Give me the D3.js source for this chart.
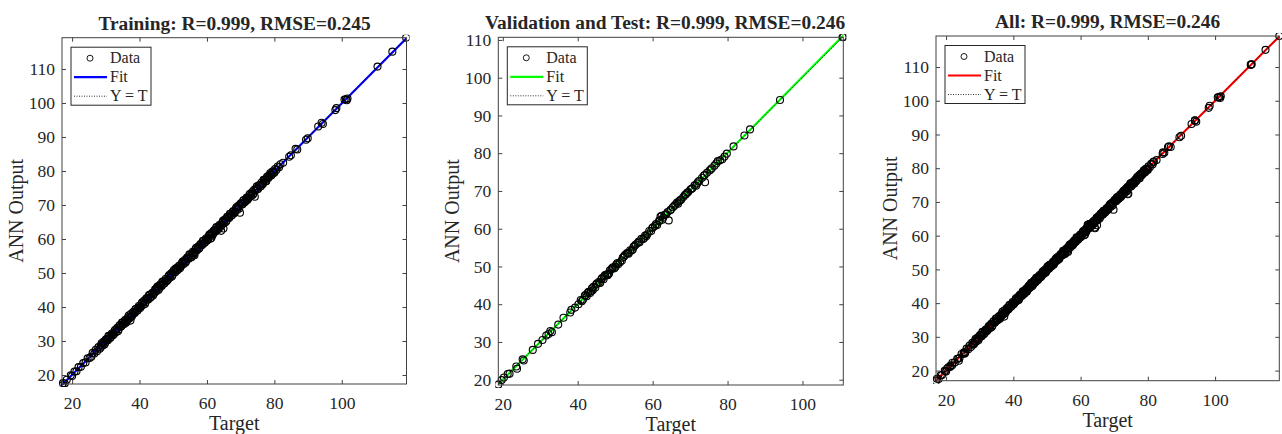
<!DOCTYPE html>
<meta charset="utf-8">
<style>
    body { margin: 0; background: #fff; }
    text { font-family: "Liberation Serif", "Times New Roman", serif; fill: #262626; }
    .title { font-weight: bold; font-size: 19.4px; }
    .tick line { stroke: #404040; }
    .domain { display: none; }
    .axlabel { font-size: 20px; }
    .legend text { font-size: 16px; }
    .frame { fill: none; stroke: #404040; stroke-width: 1; }
    .data circle { fill: none; stroke: #000; stroke-width: 1.1px; }
    .ideal { fill: none; stroke: #000; stroke-width: 0.8px; stroke-dasharray: 1, 1.5; }
</style>
<svg width="1282" height="434"></svg>
<script src="https://d3js.org/d3.v7.min.js"></script>
<script>

    // training set: targets and network outputs
    var trainTarget = [
        17.0, 17.3, 17.8, 18.4, 19.6, 20.0, 20.7, 21.3, 21.9, 22.6,
        23.3, 24.0, 24.6, 25.2, 25.7, 26.1, 26.6, 27.0, 27.4, 27.8,
        28.2, 28.6, 29.0, 29.4, 29.8, 30.2, 30.6, 31.0, 31.4, 31.8,
        32.2, 32.6, 33.0, 33.4, 33.8, 34.2, 34.6, 35.0, 35.4, 35.8,
        36.2, 36.6, 37.0, 37.4, 37.8, 38.2, 38.6, 39.0, 39.4, 39.8,
        40.2, 40.6, 41.0, 41.4, 41.8, 42.2, 42.6, 43.0, 43.4, 43.8,
        44.2, 44.6, 45.0, 45.4, 45.8, 46.2, 46.6, 47.0, 47.4, 47.8,
        48.2, 48.6, 49.0, 49.4, 49.8, 50.2, 50.6, 51.0, 51.4, 51.8,
        52.2, 52.6, 53.0, 53.4, 53.8, 54.2, 54.6, 55.0, 55.4, 55.8,
        56.2, 56.6, 57.0, 57.4, 57.8, 58.2, 58.6, 59.0, 59.4, 59.8,
        60.2, 60.6, 61.0, 61.4, 61.8, 62.2, 62.6, 63.0, 63.4, 63.8,
        64.2, 64.6, 65.0, 65.4, 65.8, 66.2, 66.6, 67.0, 67.4, 67.8,
        68.2, 68.6, 69.0, 69.4, 69.8, 70.2, 70.6, 71.0, 71.4, 71.8,
        72.2, 72.6, 73.0, 73.4, 73.8, 74.2, 74.6, 75.0, 75.4, 75.8,
        76.2, 76.6, 77.0, 77.4, 77.8, 78.2, 78.6, 79.0, 79.4, 79.8,
        80.2, 80.6, 81.0, 81.4, 81.8, 82.6, 84.4, 84.9, 86.3, 86.8,
        89.4, 89.9, 93.0, 94.0, 94.4, 98.1, 98.4, 100.8, 101.2, 101.5,
        101.7, 110.6, 115.0, 119.1, 37.3, 64.9, 56.3, 61.3, 50.7, 45.3,
        28.4, 28.8, 29.2, 29.6, 30.0, 30.4, 30.8, 31.2, 31.6, 32.0,
        32.4, 32.8, 33.2, 33.6, 34.0, 34.4, 34.8, 35.2, 35.6, 36.0,
        36.4, 36.8, 37.2, 37.6, 38.0, 38.4, 38.8, 39.2, 39.6, 40.0,
        40.4, 40.8, 41.2, 41.6, 42.0, 42.4, 42.8, 43.2, 43.6, 44.0,
        44.4, 44.8, 45.2, 45.6, 46.0, 46.4, 46.8, 47.2, 47.6, 48.0,
        48.4, 48.8, 49.2, 49.6, 50.0, 50.4, 50.8, 51.2, 51.6, 52.0,
        52.4, 52.8, 53.2, 53.6, 54.0, 54.4, 54.8, 55.2, 55.6, 56.0,
        56.4, 56.8, 57.2, 57.6, 58.0, 58.4, 58.8, 59.2, 59.6, 60.0,
        60.4, 60.8, 61.2, 61.6, 62.0, 62.4, 62.8, 63.2, 63.6, 64.0,
        64.4, 64.8, 65.2, 65.6, 66.0, 66.4, 66.8, 67.2, 67.6, 68.0,
        68.4, 68.8, 69.2, 69.6, 70.0, 70.4, 70.8, 71.2, 71.6, 72.0,
        72.4, 72.8, 73.2, 73.6, 74.0, 74.4, 74.8, 75.2, 75.6, 76.0,
        76.4, 76.8, 77.2, 77.6, 78.0, 78.4, 78.8, 79.2, 79.6, 80.0
    ];
    var trainOutput = [
        16.9, 17.6, 17.5, 18.6, 19.9, 19.7, 21.0, 21.1, 22.3, 22.4,
        23.5, 23.7, 24.9, 25.0, 25.4, 26.5, 26.3, 27.4, 27.0, 28.2,
        27.7, 28.9, 28.6, 29.8, 29.5, 30.6, 30.2, 31.4, 31.0, 32.2,
        31.9, 33.0, 32.6, 33.9, 33.4, 34.7, 34.3, 35.4, 35.0, 36.2,
        35.8, 37.0, 36.6, 37.9, 37.4, 38.6, 38.2, 39.4, 39.0, 40.3,
        39.8, 41.0, 40.6, 41.9, 41.4, 42.6, 42.2, 43.5, 43.0, 44.2,
        43.8, 45.1, 44.6, 45.8, 45.4, 46.7, 46.2, 47.4, 47.0, 48.3,
        47.8, 49.0, 48.6, 49.9, 49.4, 50.9, 50.2, 51.4, 51.0, 52.2,
        51.8, 53.0, 52.6, 53.8, 53.4, 54.6, 54.2, 55.4, 54.6, 56.2,
        55.8, 57.0, 56.6, 57.8, 57.4, 58.6, 58.2, 59.4, 59.0, 60.2,
        59.8, 61.0, 60.1, 61.8, 61.4, 62.6, 62.2, 63.4, 63.0, 64.2,
        62.4, 64.9, 64.6, 65.8, 65.4, 66.6, 66.2, 67.4, 67.0, 68.2,
        67.8, 69.0, 68.6, 69.8, 67.7, 70.6, 70.2, 71.4, 71.0, 72.2,
        71.8, 73.0, 72.6, 73.8, 73.4, 72.4, 74.9, 74.6, 75.8, 75.4,
        76.6, 76.2, 77.4, 77.0, 78.2, 77.9, 78.9, 78.7, 79.8, 79.5,
        80.6, 80.3, 81.3, 81.1, 82.0, 82.4, 84.2, 84.6, 86.5, 86.3,
        89.2, 89.6, 93.1, 94.2, 93.8, 97.9, 98.5, 101.0, 101.1, 100.8,
        101.3, 110.7, 115.1, 119.2, 36.0, 63.1, 55.2, 60.3, 51.2, 46.0,
        28.1, 29.4, 29.3, 29.0, 30.4, 30.3, 31.5, 30.8, 31.8, 31.6,
        32.0, 33.3, 33.4, 32.9, 34.5, 34.2, 35.4, 34.9, 35.9, 35.4,
        36.2, 37.5, 37.1, 37.1, 38.4, 38.2, 39.4, 38.9, 39.8, 39.6,
        40.1, 41.4, 41.4, 40.9, 42.5, 42.3, 43.5, 42.7, 43.9, 43.4,
        44.2, 45.3, 45.4, 45.0, 46.4, 46.2, 47.5, 46.8, 47.8, 47.6,
        48.0, 49.4, 49.3, 49.0, 50.5, 50.3, 51.4, 50.8, 51.9, 51.4,
        52.2, 53.4, 53.3, 53.0, 54.3, 54.3, 55.5, 54.7, 55.8, 55.4,
        56.1, 57.4, 57.3, 57.1, 58.4, 58.3, 59.5, 58.8, 59.8, 59.5,
        60.1, 61.4, 61.3, 61.0, 62.4, 62.3, 63.5, 62.8, 63.8, 63.5,
        64.1, 65.4, 65.3, 65.0, 66.5, 66.3, 67.4, 66.8, 67.9, 67.5,
        68.1, 69.4, 69.3, 69.0, 70.4, 70.3, 71.4, 70.8, 71.8, 71.5,
        72.1, 73.3, 73.3, 73.0, 74.5, 74.3, 75.5, 74.8, 75.8, 75.5,
        76.1, 77.4, 77.3, 77.0, 78.4, 78.2, 79.4, 78.8, 79.8, 79.5
    ];

    // validation + test set
    var valTarget = [
        18.8, 19.7, 20.3, 21.3, 21.8, 23.6, 23.8, 25.3, 25.6, 28.0,
        29.4, 30.6, 31.6, 32.2, 32.7, 33.1, 34.8, 36.2, 38.0, 38.3,
        39.3, 40.2, 40.8, 41.4, 41.9, 42.4, 42.9, 43.3, 43.8, 44.2,
        44.7, 45.1, 45.6, 46.0, 46.5, 46.9, 47.3, 47.8, 48.2, 48.6,
        49.0, 49.4, 49.8, 50.3, 50.8, 51.3, 52.0, 52.6, 53.1, 53.6,
        54.0, 54.4, 54.9, 55.5, 56.0, 56.5, 57.0, 57.5, 58.0, 58.6,
        59.1, 59.6, 60.1, 60.6, 61.2, 61.7, 62.1, 62.4, 62.8, 63.2,
        63.6, 64.0, 64.3, 64.7, 65.4, 66.1, 66.5, 67.0, 67.6, 68.2,
        68.9, 69.5, 70.1, 70.6, 71.2, 71.9, 72.5, 73.2, 73.7, 74.0,
        74.5, 75.2, 75.8, 76.5, 77.4, 78.0, 79.2, 79.8, 81.6, 84.5,
        86.0, 94.0, 110.7, 110.9,
        41.1, 42.7, 43.6, 44.9, 45.9, 47.1, 48.0, 49.2, 50.1, 53.4,
        54.7, 56.3, 57.8, 61.9, 62.6, 63.4, 66.8, 69.2, 71.6, 73.9,
        42.1, 44.0, 46.3, 48.4, 50.6, 51.8, 52.3, 55.2, 58.3, 59.9,
        60.9, 64.9, 65.8, 67.3, 68.6, 70.4, 72.2, 75.5, 77.0, 78.6
    ];
    var valOutput = [
        18.7, 19.9, 20.6, 21.5, 21.6, 23.5, 22.9, 25.4, 25.1, 27.9,
        29.5, 30.5, 31.7, 32.1, 32.9, 32.6, 34.6, 36.4, 37.8, 38.5,
        39.1, 40.0, 41.1, 41.2, 42.3, 42.1, 43.3, 43.0, 44.2, 44.6,
        44.4, 45.5, 45.9, 45.7, 46.9, 46.6, 47.7, 47.9, 48.0, 49.0,
        49.3, 49.8, 49.5, 50.5, 50.6, 51.1, 52.3, 53.0, 53.5, 53.4,
        54.3, 54.2, 55.2, 55.8, 56.2, 56.4, 57.3, 57.3, 58.2, 58.5,
        59.4, 59.4, 60.4, 60.7, 61.0, 62.0, 63.2, 63.4, 62.9, 63.6,
        63.8, 64.4, 62.2, 64.9, 65.7, 66.4, 66.9, 67.2, 67.7, 68.4,
        69.1, 69.7, 70.4, 70.7, 71.5, 72.0, 72.7, 73.5, 74.1, 72.3,
        74.8, 75.4, 76.0, 76.7, 77.9, 78.1, 79.1, 79.9, 81.8, 84.7,
        86.3, 94.1, 110.7, 110.8,
        40.8, 43.0, 43.4, 45.2, 45.6, 47.4, 47.7, 49.5, 49.9, 53.6,
        54.5, 56.6, 57.6, 62.2, 62.4, 63.7, 66.6, 69.5, 71.4, 74.2,
        42.4, 43.7, 46.6, 48.2, 50.9, 51.6, 52.6, 55.5, 58.0, 60.2,
        61.2, 65.1, 66.1, 67.5, 68.9, 70.6, 72.5, 75.7, 77.3, 78.4
    ];

    var allTarget = trainTarget.concat(valTarget);
    var allOutput = trainOutput.concat(valOutput);

    var titles = ["Training: R=0.999, RMSE=0.245",
        "Validation and Test: R=0.999, RMSE=0.246",
        "All: R=0.999, RMSE=0.246"];
    var fitColors = ["#0000ff", "#00ff00", "#ff0000"];
    var xTicks = [20, 40, 60, 80, 100];
    var yTicks = [20, 30, 40, 50, 60, 70, 80, 90, 100, 110];
    var legendLabels = ["Data", "Fit", "Y = T"];

    var panels = [
        {t: trainTarget, y: trainOutput, xd: [17.0, 119.2], yd: [17.35, 119.2],
            left: 62, right: 406.5, top: 37.7, bottom: 384, titleX: 234.5},
        {t: valTarget, y: valOutput, xd: [18.8, 110.9], yd: [18.6, 110.7],
            left: 498.3, right: 843.3, top: 37.3, bottom: 385, titleX: 665},
        {t: allTarget, y: allOutput, xd: [17.0, 119.1], yd: [17.0, 119.2],
            left: 936, right: 1279.3, top: 36, bottom: 380.7, titleX: 1107.6}
    ];

    var svg = d3.select("svg");

    function linfit(xs, ys) {
        var mx = d3.mean(xs), my = d3.mean(ys), sxy = 0, sxx = 0;
        xs.forEach(function (x, i) {
            sxy += (x - mx) * (ys[i] - my);
            sxx += (x - mx) * (x - mx);
        });
        var m = sxy / sxx;
        return {m: m, b: my - m * mx};
    }

    panels.forEach(function (p, k) {
        var x = d3.scaleLinear().domain(p.xd).range([p.left, p.right]);
        var y = d3.scaleLinear().domain(p.yd).range([p.bottom, p.top]);
        var w = p.right - p.left, h = p.bottom - p.top;
        var g = svg.append("g");

        g.append("clipPath").attr("id", "clip" + k)
            .append("rect").attr("x", p.left - 3).attr("y", p.top - 3).attr("width", w + 6).attr("height", h + 6);

        var plot = g.append("g").attr("clip-path", "url(#clip" + k + ")");
        var pts = p.t.map(function (d, i) { return [d, p.y[i]]; });
        var f = linfit(p.t, p.y);
        var x0 = p.xd[0], x1 = p.xd[1];

        // fit line
        plot.append("line")
            .attr("x1", x(x0)).attr("y1", y(f.m * x0 + f.b))
            .attr("x2", x(x1)).attr("y2", y(f.m * x1 + f.b))
            .attr("stroke", fitColors[k]).attr("stroke-width", 2.2);

        plot.append("g").attr("class", "data")
            .selectAll("circle")
            .data(pts)
            .enter().append("circle")
            .attr("cx", function (d) { return x(d[0]); })
            .attr("cy", function (d) { return y(d[1]); })
            .attr("r", 3.5);

        // Y = T
        plot.append("line").attr("class", "ideal")
            .attr("x1", x(x0)).attr("y1", y(x0))
            .attr("x2", x(x1)).attr("y2", y(x1));

        // axes, ticks pointing inward
        g.append("g").attr("transform", "translate(0," + p.bottom + ")")
            .call(d3.axisBottom(x).tickValues(xTicks).tickSizeInner(-4).tickSizeOuter(0).tickPadding(13));
        g.append("g").attr("transform", "translate(0," + p.top + ")")
            .call(d3.axisTop(x).tickValues(xTicks).tickSizeInner(-4).tickSizeOuter(0).tickFormat(""));
        g.append("g").attr("transform", "translate(" + p.left + ",0)")
            .call(d3.axisLeft(y).tickValues(yTicks).tickSizeInner(-4).tickSizeOuter(0).tickPadding(7));
        g.append("g").attr("transform", "translate(" + p.right + ",0)")
            .call(d3.axisRight(y).tickValues(yTicks).tickSizeInner(-4).tickSizeOuter(0).tickFormat(""));
        g.selectAll(".tick text")
            .style("font-family", "'Liberation Serif', 'Times New Roman', serif")
            .style("font-size", "17.5px")
            .style("fill", "#262626");

        g.append("rect").attr("class", "frame")
            .attr("x", p.left).attr("y", p.top).attr("width", w).attr("height", h);

        g.append("text").attr("class", "title")
            .attr("x", p.titleX).attr("y", p.top - 8)
            .attr("text-anchor", "middle").text(titles[k]);

        g.append("text").attr("class", "axlabel")
            .attr("x", (p.left + p.right) / 2).attr("y", p.bottom + 46)
            .attr("text-anchor", "middle").text("Target");

        g.append("text").attr("class", "axlabel")
            .attr("transform", "translate(" + (p.left - 39.5) + "," + ((p.top + p.bottom) / 2) + ") rotate(-90)")
            .attr("text-anchor", "middle").text("ANN Output");

        // legend
        var lg = g.append("g").attr("class", "legend")
            .attr("transform", "translate(" + (p.left + 9) + "," + (p.top + 9.5) + ")");
        lg.append("rect").attr("width", 80).attr("height", 58)
            .attr("fill", "#fff").attr("stroke", "#262626").attr("stroke-width", 1);
        lg.append("circle").attr("cx", 19).attr("cy", 11).attr("r", 3)
            .attr("fill", "none").attr("stroke", "#000").attr("stroke-width", 0.9);
        lg.append("line").attr("x1", 3).attr("x2", 36).attr("y1", 30).attr("y2", 30)
            .attr("stroke", fitColors[k]).attr("stroke-width", 2.2);
        lg.append("line").attr("class", "ideal").attr("x1", 3).attr("x2", 36).attr("y1", 49).attr("y2", 49);
        lg.selectAll("text.lab")
            .data(legendLabels)
            .enter().append("text").attr("class", "lab")
            .attr("x", 39)
            .attr("y", function (d, i) { return 16 + i * 19; })
            .text(function (d) { return d; });
    });

</script>
